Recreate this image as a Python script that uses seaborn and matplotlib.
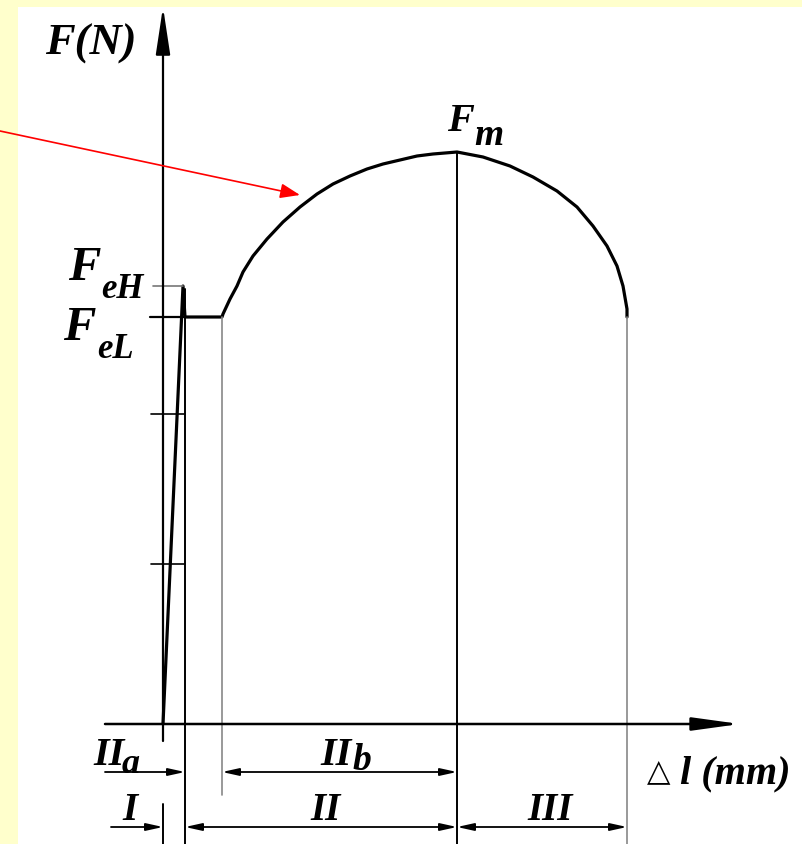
import matplotlib
matplotlib.use('Agg')
import matplotlib.pyplot as plt
import seaborn as sns
import pandas as pd

# force-elongation curve (elongation, force in arbitrary units)
elastic_x = [0, 20, 22]
elastic_y = [0, 438, 407]
yield_x = [22, 59]
yield_y = [407, 407]
harden_x = [59, 60, 67, 74, 80, 90, 104, 120, 137, 154, 170, 187, 204, 220, 237, 254, 270, 294]
harden_y = [407, 410, 425, 438, 452, 468, 485, 502, 517, 530, 540, 548, 555, 560, 564, 568, 570, 572]
neck_x = [294, 320, 347, 370, 394, 414, 430, 444, 454, 460, 464, 464]
neck_y = [572, 567, 558, 547, 533, 517, 498, 478, 458, 438, 415, 407]

tick_levels = [160, 310]
stage_bounds = [0, 22, 59, 294, 464]   # x of I / IIa / IIb / III limits

sns.set_style('white')
plt.rcParams['font.family'] = ['Liberation Serif', 'DejaVu Serif']
plt.rcParams['text.color'] = 'black'

fig = plt.figure(figsize=(8.03, 8.45), dpi=100)
fig.patch.set_facecolor('#FFFFCC')
ax = fig.add_axes([18 / 803, 0, 785 / 803, 837 / 845])
ax.set_facecolor('white')
ax.set_xlim(-145, 640)
ax.set_ylim(-120, 717)
ax.set_xticks([])
ax.set_yticks([])
for s in ax.spines.values():
    s.set_visible(False)

curve = pd.DataFrame({
    'x': elastic_x + yield_x + harden_x + neck_x,
    'y': elastic_y + yield_y + harden_y + neck_y,
})
sns.lineplot(data=curve, x='x', y='y', sort=False, estimator=None,
             color='black', lw=2.3, ax=ax)
ax.set_xlabel('')
ax.set_ylabel('')

# axes with arrows
ax.annotate('', xy=(0, 717), xytext=(0, -17),
            arrowprops=dict(arrowstyle='-|>,head_length=1.45,head_width=0.22',
                            color='black', lw=1.6, mutation_scale=20,
                            shrinkA=0, shrinkB=0))
ax.annotate('', xy=(577, 0), xytext=(-58, 0),
            arrowprops=dict(arrowstyle='-|>,head_length=1.45,head_width=0.2',
                            color='black', lw=1.8, mutation_scale=20,
                            shrinkA=0, shrinkB=0))

# small ticks on force axis
fm = max(harden_y)
feh = elastic_y[1]
fel = yield_y[0]
for t in tick_levels:
    ax.plot([-12, 22], [t, t], color='black', lw=1.2)
ax.plot([-10, 20], [feh, feh], color='#777777', lw=1.2)
ax.plot([-13, 22], [fel, fel], color='black', lw=1.6)

# extension lines
x_el, x_yl, x_fm, x_end = stage_bounds[1], stage_bounds[2], stage_bounds[3], stage_bounds[4]
ax.plot([0, 0], [-80, -120], color='black', lw=1.4)
ax.plot([x_el, x_el], [feh - 3, -120], color='black', lw=1.4)
ax.plot([x_yl, x_yl], [fel, -71], color='#888888', lw=1.2)
ax.plot([x_fm, x_fm], [fm, -120], color='black', lw=1.4)
ax.plot([x_end, x_end], [neck_y[-1], -120], color='#888888', lw=1.2)

# dimension arrows
def dim(x0, x1, y, style='-|>'):
    ax.annotate('', xy=(x1, y), xytext=(x0, y),
                arrowprops=dict(arrowstyle=style + ',head_length=1.0,head_width=0.22',
                                color='black', lw=1.3, mutation_scale=10,
                                shrinkA=0, shrinkB=0))

dim(-58, x_el, -48)
dim(x_yl, x_fm, -48, '<|-|>')
dim(-52, 0, -103)
dim(x_el, x_fm, -103, '<|-|>')
dim(x_fm, x_end, -103, '<|-|>')

# red pointer to the curve
ax.annotate('', xy=(137, 529), xytext=(-163, 593), annotation_clip=False,
            arrowprops=dict(arrowstyle='-|>,head_length=1.2,head_width=0.45',
                            color='red', lw=1.2, mutation_scale=10,
                            shrinkA=0, shrinkB=0))

lab = dict(fontweight='bold', fontstyle='italic', va='baseline', ha='left', color='black')
ax.text(-118, 670, 'F(N)', fontsize=32, **lab)
ax.text(284, 594, 'F', fontsize=29, **lab)
ax.text(311, 580, 'm', fontsize=27, **lab)
ax.text(-95, 445, 'F', fontsize=35, **lab)
ax.text(-62, 427, 'eH', fontsize=25, **lab)
ax.text(-100, 385, 'F', fontsize=35, **lab)
ax.text(-66, 367, 'eL', fontsize=25, **lab)
ax.text(-70, -40, 'II', fontsize=29, **lab)
ax.text(-41, -48, 'a', fontsize=26, **lab)
ax.text(157, -40, 'II', fontsize=29, **lab)
ax.text(190, -45, 'b', fontsize=27, **lab)
ax.text(-41, -95, 'I', fontsize=28, **lab)
ax.text(147, -95, 'II', fontsize=28, **lab)
ax.text(364, -95, 'III', fontsize=28, **lab)
ax.text(484, -55, '△', fontsize=22, family='DejaVu Sans', va='baseline', ha='left', color='black')
ax.text(517, -58, 'l (mm)', fontsize=29, **lab)

fig.savefig('out.png', dpi=100, facecolor=fig.get_facecolor())
